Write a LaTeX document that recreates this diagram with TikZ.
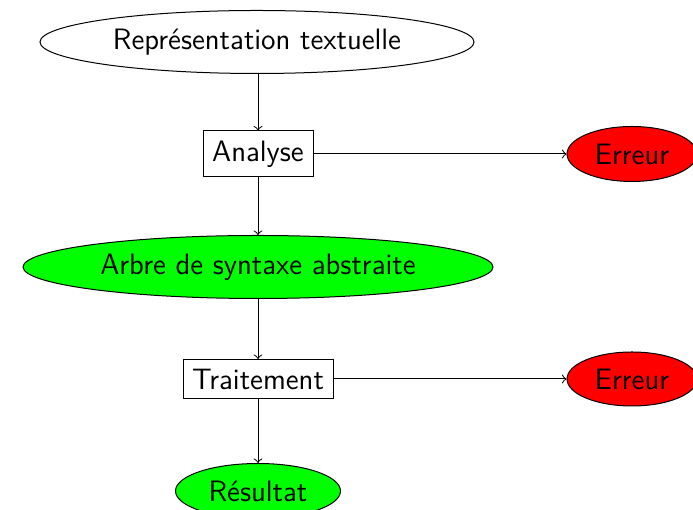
\documentclass[tikz,border=0pt]{standalone}
\usetikzlibrary{shapes.geometric}
\begin{document}
\begin{tikzpicture}[x=0.4pt,y=-0.4pt,
  font=\sffamily\fontsize{11.8}{14}\selectfont,
  every node/.style={draw,inner sep=0pt},
  oval/.style={ellipse},
  box/.style={rectangle},
  ok/.style={fill={rgb,255:red,0;green,255;blue,0}},
  bad/.style={fill={rgb,255:red,255;green,0;blue,0}},
  conn/.style={->}]
\useasboundingbox (0,0) rectangle (693,510);
\node[oval,minimum width=173.6pt,minimum height=25.2pt] (rep) at (257,42) {Représentation textuelle};
\node[box,minimum width=44pt,minimum height=18.4pt] (ana) at (258,154) {Analyse};
\node[oval,bad,minimum width=52pt,minimum height=22pt] (err1) at (632,154) {Erreur};
\node[oval,ok,minimum width=188pt,minimum height=25.2pt] (ast) at (258,267) {Arbre de syntaxe abstraite};
\node[box,minimum width=60pt,minimum height=15.6pt] (tra) at (258,379) {Traitement};
\node[oval,bad,minimum width=52pt,minimum height=21.6pt] (err2) at (632,379) {Erreur};
\node[oval,ok,minimum width=66pt,minimum height=22pt] (res) at (258,491) {Résultat};
\draw[conn] (rep.south -| ana.north) -- (ana.north);
\draw[conn] (ana) -- (err1);
\draw[conn] (ana) -- (ast);
\draw[conn] (ast) -- (tra);
\draw[conn] (tra) -- (err2);
\draw[conn] (tra) -- (res);
\end{tikzpicture}
\end{document}
